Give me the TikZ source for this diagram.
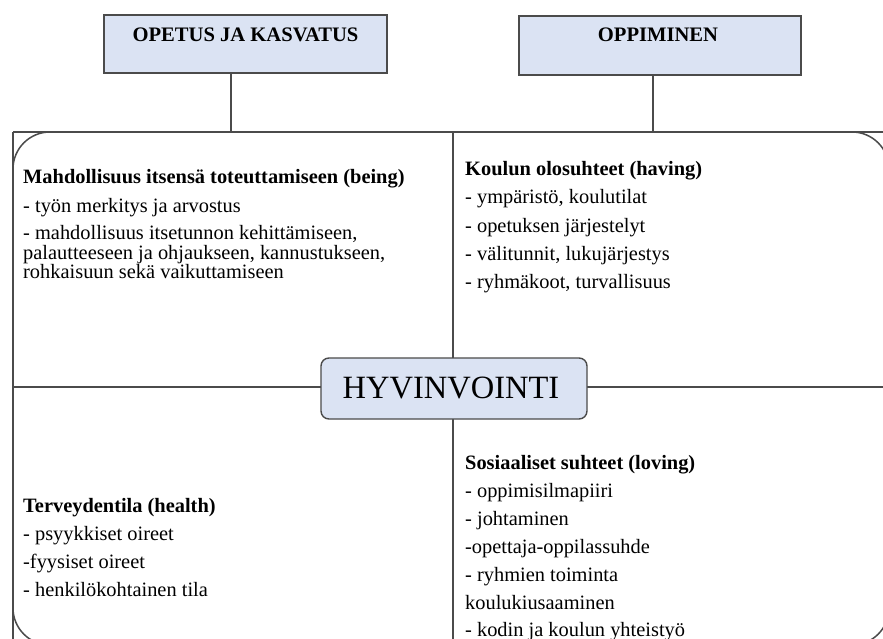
\documentclass[tikz,border=0pt]{standalone}
\usepackage{fontspec}
\setmainfont{Liberation Serif}
\definecolor{boxblue}{RGB}{219,227,243}
\definecolor{linegray}{RGB}{75,75,75}
\begin{document}
\begin{tikzpicture}[x=1pt,y=-1pt,
  topbox/.style={draw=linegray, line width=1.6pt, fill=boxblue},
  toplabel/.style={anchor=base, inner sep=0, font=\fontsize{20.6}{20.6}\selectfont\bfseries},
  frameline/.style={draw=linegray, line width=1.5pt},
  txt/.style={anchor=base west, inner sep=0, font=\fontsize{20.4}{20.4}\selectfont},
  hd/.style={txt, font=\fontsize{20.4}{20.4}\selectfont\bfseries},
  centerbox/.style={draw=linegray, line width=1.4pt, fill=boxblue, rounded corners=8pt,
    minimum width=266pt, minimum height=61pt, inner sep=0}]
\useasboundingbox (0,0) rectangle (883,639);
\clip (0,0) rectangle (883,639);
\fill[white] (0,0) rectangle (883,639);

% top boxes
\path[topbox] (104,15) rectangle (387,73);
\node[toplabel] (lab1) at (245.5,42) {OPETUS JA KASVATUS};
\coordinate (box1bottom) at (231,73);
\path[topbox] (519,16) rectangle (801,75);
\node[toplabel] (lab2) at (658,42) {OPPIMINEN};
\coordinate (box2bottom) at (653,75);

% frame
\coordinate (j1) at (231,132);
\coordinate (j2) at (653,132);
\draw[frameline] (box1bottom) -- (j1);
\draw[frameline] (box2bottom) -- (j2);
\draw[frameline, rounded corners=37pt] (13,132) rectangle (889,645);
\draw[frameline] (13,132) -- (883,132);
\draw[frameline] (13,132) -- (13,639);

% dividers
\coordinate (vtop) at (453,132);
\coordinate (vbot) at (453,639);
\coordinate (hl) at (13,387);
\coordinate (hr) at (883,387);
\draw[frameline] (vtop) -- (vbot);
\draw[frameline] (hl) -- (hr);

\node[centerbox] (hyv) at (454,388.5) {};
\node[anchor=base, inner sep=0, font=\fontsize{32.5}{32.5}\selectfont] (hyvtxt) at (451,398) {HYVINVOINTI};

% top-left
\node[hd] (a1) at (23,184) {Mahdollisuus itsensä toteuttamiseen (being)};
\node[txt] (a2) at (23,212) {- työn merkitys ja arvostus};
\node[txt] (a3) at (23,240) {- mahdollisuus itsetunnon kehittämiseen,};
\node[txt] (a4) at (23,259) {palautteeseen ja ohjaukseen, kannustukseen,};
\node[txt] (a5) at (23,278) {rohkaisuun sekä vaikuttamiseen};

% top-right
\node[hd] (b1) at (465,176) {Koulun olosuhteet (having)};
\node[txt] (b2) at (465,204) {- ympäristö, koulutilat};
\node[txt] (b3) at (465,232) {- opetuksen järjestelyt};
\node[txt] (b4) at (465,260) {- välitunnit, lukujärjestys};
\node[txt] (b5) at (465,288) {- ryhmäkoot, turvallisuus};

% bottom-left
\node[hd] (c1) at (23,512) {Terveydentila (health)};
\node[txt] (c2) at (23,540) {- psyykkiset oireet};
\node[txt] (c3) at (23,568) {-fyysiset oireet};
\node[txt] (c4) at (23,596) {- henkilökohtainen tila};

% bottom-right
\node[hd] (d1) at (465,469) {Sosiaaliset suhteet (loving)};
\node[txt] (d2) at (465,497) {- oppimisilmapiiri};
\node[txt] (d3) at (465,525) {- johtaminen};
\node[txt] (d4) at (465,553) {-opettaja-oppilassuhde};
\node[txt] (d5) at (465,581) {- ryhmien toiminta};
\node[txt] (d6) at (465,609) {koulukiusaaminen};
\node[txt] (d7) at (465,636) {- kodin ja koulun yhteistyö};
\end{tikzpicture}
\end{document}
